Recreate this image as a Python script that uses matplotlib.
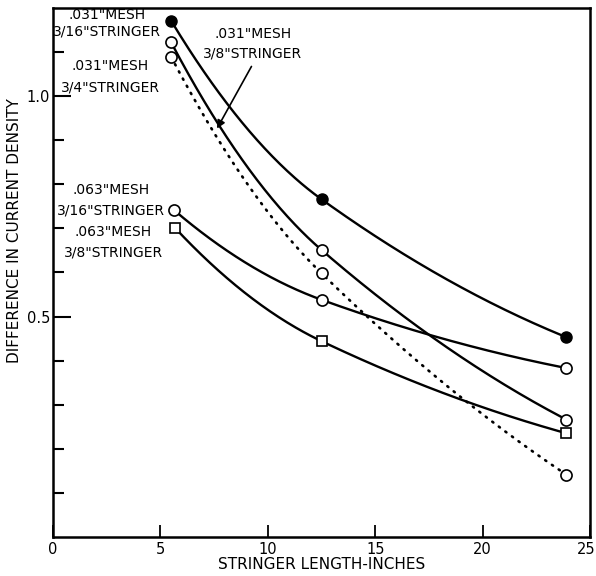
import numpy as np
import matplotlib
matplotlib.use("Agg")
import matplotlib.pyplot as plt
from matplotlib.transforms import ScaledTranslation

# Data (stringer length in inches, difference in current density)
x_m031_s316 = [5.5, 12.5, 23.9]
y_m031_s316 = [1.171, 0.766, 0.453]

x_m031_s38 = [5.5, 12.5, 23.9]
y_m031_s38 = [1.122, 0.651, 0.266]

x_m031_s34 = [5.5, 12.5, 23.9]
y_m031_s34 = [1.089, 0.598, 0.141]

x_m063_s316 = [5.62, 12.5, 23.9]
y_m063_s316 = [0.742, 0.538, 0.383]

x_m063_s38 = [5.7, 12.5, 23.9]
y_m063_s38 = [0.700, 0.444, 0.235]

xticks = [0, 5, 10, 15, 20, 25]
yticks_major = [0.5, 1.0]
yticks_minor = [0.1, 0.2, 0.3, 0.4, 0.6, 0.7, 0.8, 0.9, 1.1]

plt.rcParams['font.family'] = ['DejaVu Sans']

fig = plt.figure(figsize=(5.96, 5.76), dpi=100)
ax = fig.add_axes([0.089, 0.068, 0.901, 0.918])


def smooth(xs, ys):
    """Hand-drawn-like smooth curve through the three points (C1 Hermite)."""
    xs = np.asarray(xs, float)
    ys = np.asarray(ys, float)
    d0 = (ys[1] - ys[0]) / (xs[1] - xs[0])
    d1 = (ys[2] - ys[1]) / (xs[2] - xs[1])
    m1 = d1 + 0.25 * (d0 - d1)
    m0 = 2 * d0 - m1
    m2 = 2 * d1 - m1
    ms = [m0, m1, m2]
    X, Y = [], []
    for i in range(2):
        h = xs[i + 1] - xs[i]
        t = np.linspace(0, 1, 120)
        h00 = 2 * t**3 - 3 * t**2 + 1
        h10 = t**3 - 2 * t**2 + t
        h01 = -2 * t**3 + 3 * t**2
        h11 = t**3 - t**2
        X.append(xs[i] + t * h)
        Y.append(h00 * ys[i] + h10 * h * ms[i] + h01 * ys[i + 1] + h11 * h * ms[i + 1])
    return np.concatenate(X), np.concatenate(Y)


lw = 1.7
# filled circles
xx, yy = smooth(x_m031_s316, y_m031_s316)
ax.plot(xx, yy, color='black', lw=lw, zorder=2)
ax.plot(x_m031_s316, y_m031_s316, 'o', ms=8, mfc='black', mec='black', zorder=3)

# .031 mesh 3/8 stringer: solid, open circles
xx, yy = smooth(x_m031_s38, y_m031_s38)
ax.plot(xx, yy, color='black', lw=lw, zorder=2)
ax.plot(x_m031_s38, y_m031_s38, 'o', ms=8, mfc='white', mec='black', mew=1.2, zorder=3)

# .031 mesh 3/4 stringer: dotted
xx, yy = smooth(x_m031_s34, y_m031_s34)
ax.plot(xx, yy, color='black', lw=1.9, dashes=(0.5, 2.6), dash_capstyle='round', zorder=2)
ax.plot(x_m031_s34, y_m031_s34, 'o', ms=8, mfc='white', mec='black', mew=1.2, zorder=3)

# .063 mesh 3/16 stringer
xx, yy = smooth(x_m063_s316, y_m063_s316)
ax.plot(xx, yy, color='black', lw=lw, zorder=2)
ax.plot(x_m063_s316, y_m063_s316, 'o', ms=8, mfc='white', mec='black', mew=1.2, zorder=3)

# .063 mesh 3/8 stringer: squares
xx, yy = smooth(x_m063_s38, y_m063_s38)
ax.plot(xx, yy, color='black', lw=lw, zorder=2)
ax.plot(x_m063_s38, y_m063_s38, 's', ms=7.5, mfc='white', mec='black', mew=1.2, zorder=3)

ax.set_xlim(0, 25)
ax.set_ylim(0, 1.2)
ax.set_xticks(xticks)
ax.set_xticklabels([str(t) for t in xticks], fontsize=10.5)
ax.set_yticks(yticks_major)
ax.set_yticklabels(['0.5', '1.0'], fontsize=10.5)
ax.set_yticks(yticks_minor, minor=True)
ax.tick_params(axis='y', which='major', direction='in', length=13, width=1.5, pad=2)
ax.tick_params(axis='y', which='minor', direction='in', length=8, width=1.5)
ax.tick_params(axis='x', which='major', direction='in', length=9, width=1.3, pad=4)
for s in ax.spines.values():
    s.set_linewidth(1.8)

# nudge the last x tick label so it stays inside the figure
last = ax.get_xticklabels()[-1]
last.set_transform(last.get_transform() + ScaledTranslation(-4 / 100, 0, fig.dpi_scale_trans))

ax.set_xlabel('STRINGER LENGTH-INCHES', fontsize=11, labelpad=0)
ax.set_ylabel('DIFFERENCE IN CURRENT DENSITY', fontsize=11, labelpad=2)
ax.yaxis.set_label_coords(-0.058, 0.58)

tkw = dict(fontsize=10, ha='center', va='center')
ax.text(2.52, 1.165, '.031"MESH\n3/16"STRINGER', linespacing=1.2, **tkw)
ax.text(2.66, 1.044, '.031"MESH\n3/4"STRINGER', linespacing=1.75, **tkw)
ax.text(2.71, 0.764, '.063"MESH\n3/16"STRINGER', linespacing=1.55, **tkw)
ax.text(2.80, 0.668, '.063"MESH\n3/8"STRINGER', linespacing=1.6, **tkw)
ax.text(9.30, 1.118, '.031"MESH\n3/8"STRINGER', linespacing=1.5, **tkw)
ax.annotate('', xy=(7.57, 0.921), xytext=(9.30, 1.073),
            arrowprops=dict(arrowstyle='-|>', color='black', lw=1.2, mutation_scale=12))

fig.savefig('out.png', dpi=100)
